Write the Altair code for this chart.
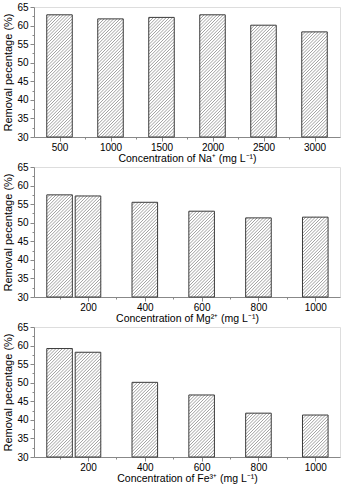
import altair as alt
import pandas as pd

# Removal percentage of the adsorbent in the presence of competing cations
na_conc = [500, 1000, 1500, 2000, 2500, 3000]
na_removal = [62.9, 61.8, 62.2, 62.9, 60.1, 58.3]

mg_conc = [100, 200, 400, 600, 800, 1000]
mg_removal = [57.5, 57.2, 55.5, 53.1, 51.3, 51.5]

fe_conc = [100, 200, 400, 600, 800, 1000]
fe_removal = [59.2, 58.2, 50.1, 46.7, 41.8, 41.3]

W, H = 306, 130
Y_DOM = [30, 65]
FONT = "Liberation Sans"
INK = "#1e1e1e"
HATCH_STEP = 3.2  # horizontal pixel spacing of the "////" hatching
Y_TITLE = "Removal pecentage (%)"


def hatch_segments(conc, removal, xdom, bar_w):
    """45-degree hatch lines clipped to each bar, returned in data units."""
    sx = W / (xdom[1] - xdom[0])
    sy = H / (Y_DOM[1] - Y_DOM[0])
    rows = []
    for c, v in zip(conc, removal):
        xl = (c - bar_w / 2 - xdom[0]) * sx
        xr = (c + bar_w / 2 - xdom[0]) * sx
        yt = (v - Y_DOM[0]) * sy
        k = (int((xl - yt) // HATCH_STEP) - 1) * HATCH_STEP
        while k < xr:
            a = max(xl, k)
            b = min(xr, k + yt)
            if b - a > 0.05:
                rows.append({
                    "hx0": xdom[0] + a / sx, "hy0": Y_DOM[0] + (a - k) / sy,
                    "hx1": xdom[0] + b / sx, "hy1": Y_DOM[0] + (b - k) / sy,
                })
            k += HATCH_STEP
    return pd.DataFrame(rows)


def panel(conc, removal, xdom, bar_w, major, minor, xtitle):
    bars = pd.DataFrame({"c": conc, "v": removal})
    bars["x0"] = bars["c"] - bar_w / 2
    bars["x1"] = bars["c"] + bar_w / 2
    bars["base"] = Y_DOM[0]
    hatch = hatch_segments(conc, removal, xdom, bar_w)

    xs = alt.Scale(domain=xdom, nice=False, zero=False)
    ys = alt.Scale(domain=Y_DOM, nice=False, zero=False)

    x_major = alt.Axis(values=major, format="d", orient="bottom", tickSize=4,
                       labelPadding=1, titlePadding=1, grid=False, labelFlush=False,
                       titleFontWeight="normal", titleFontSize=10.5, titleLimit=400)
    y_major = alt.Axis(values=list(range(30, 66, 5)), orient="left", tickSize=4,
                       labelPadding=2, titlePadding=3, grid=False,
                       titleFontWeight="normal", titleFontSize=11, titleLimit=400)
    x_minor = alt.Axis(values=minor, orient="bottom", tickSize=2, labels=False,
                       domain=False, grid=False, title="")
    y_minor = alt.Axis(values=[32.5 + 5 * i for i in range(7)], orient="left",
                       tickSize=2, labels=False, domain=False, grid=False, title="")

    fill = alt.Chart(bars).mark_rect(fill="white").encode(
        x=alt.X("x0:Q", scale=xs, axis=None),
        x2="x1:Q",
        y=alt.Y("v:Q", scale=ys, axis=None),
        y2="base:Q",
    )
    lines = alt.Chart(hatch).mark_rule(stroke="#6e6e6e", strokeWidth=0.65).encode(
        x=alt.X("hx0:Q", scale=xs, axis=x_major, title=xtitle),
        x2="hx1:Q",
        y=alt.Y("hy0:Q", scale=ys, axis=y_major, title=Y_TITLE),
        y2="hy1:Q",
    )
    outline = alt.Chart(bars).mark_rect(filled=False, stroke="#3a3a3a", strokeWidth=1).encode(
        x=alt.X("x0:Q", scale=xs, axis=x_minor),
        x2="x1:Q",
        y=alt.Y("v:Q", scale=ys, axis=y_minor),
        y2="base:Q",
    )
    return (
        alt.layer(fill, lines, outline)
        .resolve_axis(x="independent", y="independent")
        .properties(width=W, height=H)
    )


p_na = panel(na_conc, na_removal, [250, 3250], 250,
             na_conc, [750, 1250, 1750, 2250, 2750],
             "Concentration of Na⁺ (mg L⁻¹)")
p_mg = panel(mg_conc, mg_removal, [10, 1087], 90,
             [200, 400, 600, 800, 1000], [100, 300, 500, 700, 900],
             "Concentration of Mg²⁺ (mg L⁻¹)")
p_fe = panel(fe_conc, fe_removal, [10, 1087], 90,
             [200, 400, 600, 800, 1000], [100, 300, 500, 700, 900],
             "Concentration of Fe³⁺ (mg L⁻¹)")

chart = (
    alt.vconcat(p_na, p_mg, p_fe, spacing=-3)
    .properties(padding={"left": 2, "top": 1, "right": 3, "bottom": 0})
    .configure_view(stroke=INK, strokeWidth=1)
    .configure_axis(
        domainColor=INK, tickColor=INK, labelColor=INK, titleColor=INK,
        labelFont=FONT, titleFont=FONT, labelFontSize=10,
        domainWidth=1, tickWidth=1,
    )
    .configure(background="white")
)

chart.save("out.html", embed_options={"renderer": "svg", "actions": False})
